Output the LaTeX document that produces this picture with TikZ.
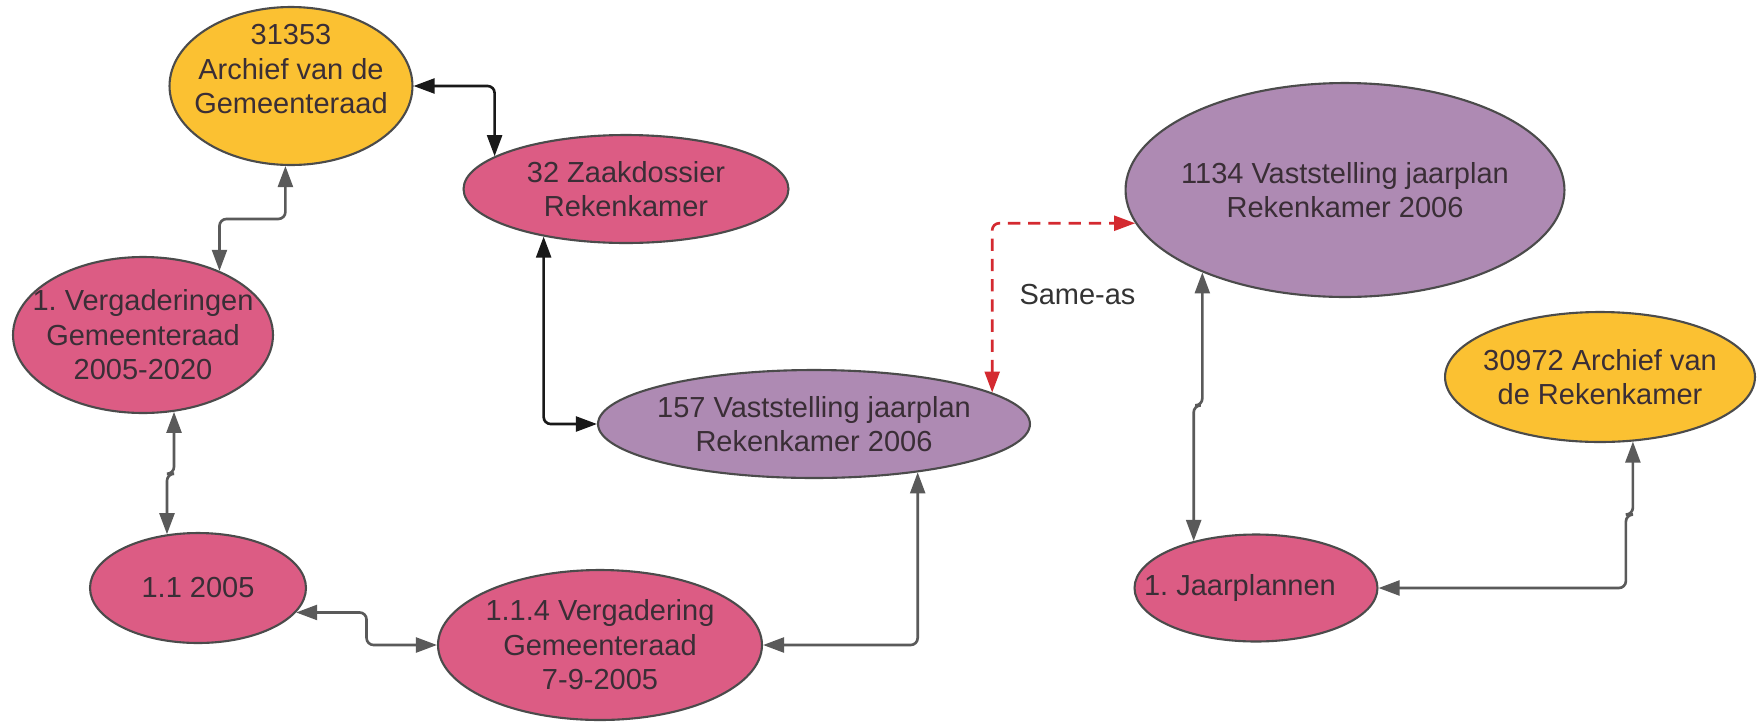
\documentclass[tikz,border=0pt]{standalone}
\usepackage{fontspec}
\setmainfont{Liberation Sans}
\usepackage{xcolor}
\usepackage{tikz}
\usetikzlibrary{arrows.meta,shapes.geometric,calc}

\definecolor{archgeel}{HTML}{FBC132}
\definecolor{roze}{HTML}{DC5C84}
\definecolor{paars}{HTML}{AE8AB3}
\definecolor{rand}{HTML}{4B4B4B}
\definecolor{lijngrijs}{HTML}{5A5A5A}
\definecolor{sameasrood}{HTML}{D42A30}
\definecolor{tekst}{HTML}{3A2E36}

\begin{document}
\begin{tikzpicture}[x=0.02cm,y=-0.02cm,>={Triangle[length=12pt,width=8.5pt]},
  every node/.style={font=\fontsize{16.5}{19.6}\selectfont\frenchspacing,text=tekst},
  blob/.style={ellipse,draw=rand,line width=1.2pt,inner sep=-0.45cm,align=center},
  archief/.style={blob,fill=archgeel},
  dossier/.style={blob,fill=roze},
  jaarplan/.style={blob,fill=paars},
  link/.style={<->,draw=black!90,line width=1.5pt,rounded corners=4pt},
  rel/.style={link,draw=lijngrijs},
  sameas/.style={link,draw=sameasrood,dash pattern=on 7pt off 4.5pt}]
\useasboundingbox (0,0) rectangle (1758,721);
\fill[white] (0,0) rectangle (1758,721);

% archives and dossiers
\node[archief,minimum width=4.86cm,minimum height=3.16cm,text depth=0.68cm] (arch) at (291,86) {31353\\Archief van de\\Gemeenteraad};
\node[dossier,minimum width=6.5cm,minimum height=2.16cm] (zaak) at (626,189) {32 Zaakdossier\\Rekenkamer};
\node[dossier,minimum width=5.2cm,minimum height=3.12cm] (verg) at (143,335) {1. Vergaderingen\\Gemeenteraad\\2005-2020};
\node[dossier,minimum width=4.32cm,minimum height=2.2cm] (n2005) at (198,588) {1.1 2005};
\node[dossier,minimum width=6.48cm,minimum height=3cm] (v114) at (600,645) {1.1.4 Vergadering\\Gemeenteraad\\7-9-2005};
\node[jaarplan,minimum width=8.64cm,minimum height=2.16cm] (v157) at (814,424) {157 Vaststelling jaarplan\\Rekenkamer 2006};
\node[jaarplan,minimum width=8.78cm,minimum height=4.28cm] (v1134) at (1345,190) {1134 Vaststelling jaarplan\\Rekenkamer 2006};
\node[archief,minimum width=6.2cm,minimum height=2.6cm] (a30972) at (1600,377) {30972 Archief van\\de Rekenkamer};
\node[dossier,minimum width=4.86cm,minimum height=2.14cm] (jaar) at (1256,588) {\hspace*{-0.32cm}1. Jaarplannen\hspace*{0.32cm}};

% relations
\draw[link] (arch.east) -| (zaak.166);
\draw[link] (zaak.210) |- (v157.west);
\draw[rel] (arch.266) -- ++(0,53) -| (verg.40);
\draw[rel] (verg.-68) -- ++(0,62) -| (n2005.120);
\draw[rel] (n2005.-14) -| ($(n2005.-14)!0.5!(v114.west)$) |- (v114.west);
\draw[rel] (v114.east) -| (v157.-25);
\draw[sameas] (v157.10) |- node[pos=0.29,right=0.52cm,inner sep=0pt,text=black!80]{Same-as} (v1134.189);
\draw[rel] (v1134.210) -- ++(0,133) -| (jaar.143);
\draw[rel] (a30972.-63) -- ++(0,73) -- ++(-7,0) |- (jaar.east);
\end{tikzpicture}
\end{document}
